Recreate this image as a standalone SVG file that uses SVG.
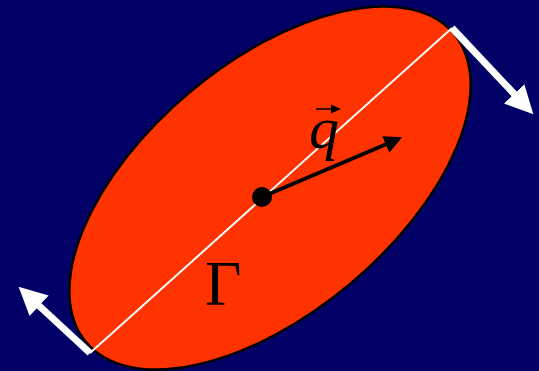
<svg xmlns="http://www.w3.org/2000/svg" width="539" height="371" viewBox="0 0 539 371">
<style>
.w{stroke:#fff;stroke-width:7;fill:none}
.t{font-family:"Liberation Serif",serif;fill:#000}
</style>
<defs>
<marker id="wh" viewBox="0 0 10 10" refX="2" refY="5" markerWidth="4" markerHeight="4" orient="auto" markerUnits="strokeWidth"><path d="M0,0L10,5L0,10z" fill="#fff"/></marker>
<marker id="bh" viewBox="0 0 10 10" refX="2" refY="5" markerWidth="4.5" markerHeight="4.5" orient="auto" markerUnits="strokeWidth"><path d="M0,0L10,5L0,10z" fill="#000"/></marker>
</defs>
<rect width="539" height="371" fill="#000066"/>
<g id="body">
<ellipse cx="270" cy="188" rx="240" ry="125" transform="rotate(-40 270 188)" fill="#ff3300" stroke="#000" stroke-width="2.5"/>
<line x1="90" y1="353" x2="452" y2="28" stroke="#fff" stroke-width="2"/>
<circle cx="262" cy="197" r="10" fill="#000"/>
<text class="t" x="205" y="305" font-size="63">Γ</text>
<text class="t" x="309" y="148" font-size="60" font-style="italic">q</text>
<line x1="316" y1="109" x2="333" y2="109" stroke="#000" stroke-width="1.5"/>
<path d="M331,104.5L341,109L331,113.5z" fill="#000"/>
</g>
<g id="connectors">
<line x1="262" y1="197" x2="389" y2="143" stroke="#000" stroke-width="4" marker-end="url(#bh)"/>
<line class="w" x1="452" y1="28" x2="518" y2="98" marker-end="url(#wh)"/>
<line class="w" x1="90" y1="353" x2="35" y2="302" marker-end="url(#wh)"/>
</g>
</svg>
